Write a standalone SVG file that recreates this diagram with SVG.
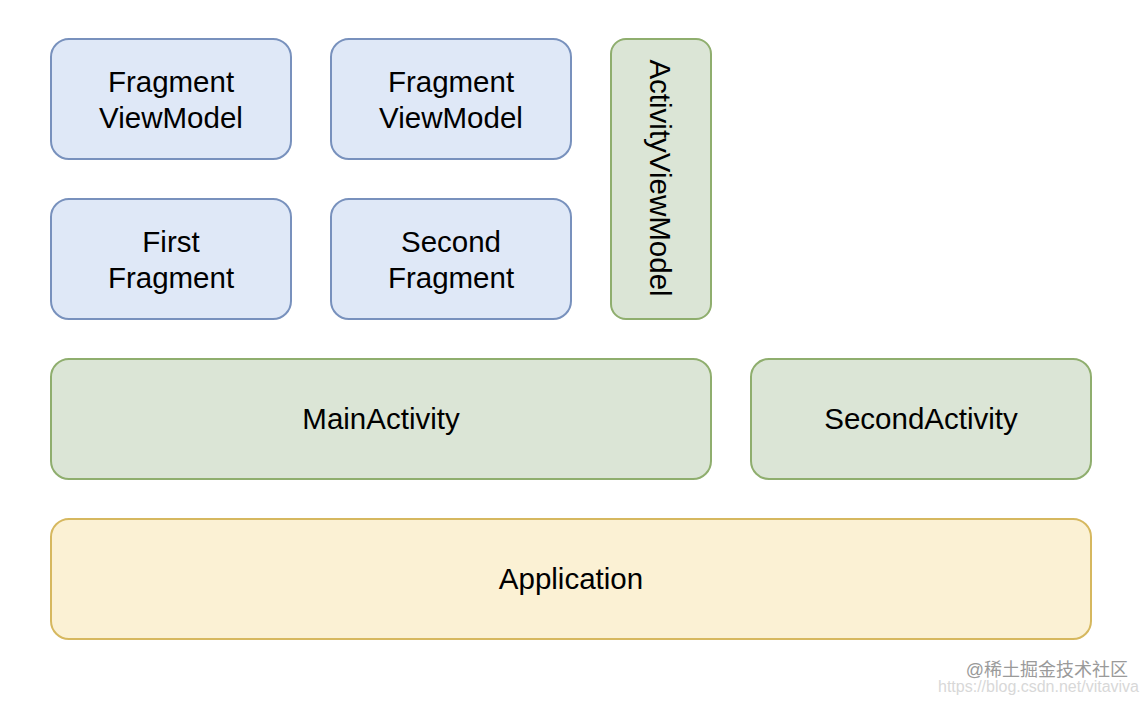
<svg xmlns="http://www.w3.org/2000/svg" width="1148" height="702" viewBox="0 0 1148 702">
<style>
.t{font-family:"Liberation Sans",Arial,Helvetica,sans-serif;font-size:29.5px;fill:#000;text-anchor:middle}
.blue{fill:#dfe8f7;stroke:#7891bd;stroke-width:2}
.green{fill:#dbe5d6;stroke:#8fae6e;stroke-width:2}
.yellow{fill:#fbf1d4;stroke:#d6b85f;stroke-width:2}
.wm{font-family:"Liberation Sans","Noto Sans CJK SC",sans-serif;text-anchor:end}
</style>
<rect width="1148" height="702" fill="#fff"/>
<g id="connectors"/>
<g id="fragmentViewModel1"><rect class="blue" x="51" y="39" width="240" height="120" rx="18"/><text class="t" x="171" y="92">Fragment</text><text class="t" x="171" y="128">ViewModel</text></g>
<g id="fragmentViewModel2"><rect class="blue" x="331" y="39" width="240" height="120" rx="18"/><text class="t" x="451" y="92">Fragment</text><text class="t" x="451" y="128">ViewModel</text></g>
<g id="firstFragment"><rect class="blue" x="51" y="199" width="240" height="120" rx="18"/><text class="t" x="171" y="252">First</text><text class="t" x="171" y="288">Fragment</text></g>
<g id="secondFragment"><rect class="blue" x="331" y="199" width="240" height="120" rx="18"/><text class="t" x="451" y="252">Second</text><text class="t" x="451" y="288">Fragment</text></g>
<g id="activityViewModel"><rect class="green" x="611" y="39" width="100" height="280" rx="15"/><text class="t" transform="translate(650,178) rotate(90)" x="0" y="0">ActivityViewModel</text></g>
<g id="mainActivity"><rect class="green" x="51" y="359" width="660" height="120" rx="18"/><text class="t" x="381" y="429">MainActivity</text></g>
<g id="secondActivity"><rect class="green" x="751" y="359" width="340" height="120" rx="18"/><text class="t" x="921" y="429">SecondActivity</text></g>
<g id="application"><rect class="yellow" x="51" y="519" width="1040" height="120" rx="18"/><text class="t" x="571" y="589">Application</text></g>
<text class="wm" x="1128" y="676" font-size="18" fill="#9a9a9a">@稀土掘金技术社区</text>
<text class="wm" x="1139" y="692" font-size="16" fill="#d8d8d8">https://blog.csdn.net/vitaviva</text>
</svg>
